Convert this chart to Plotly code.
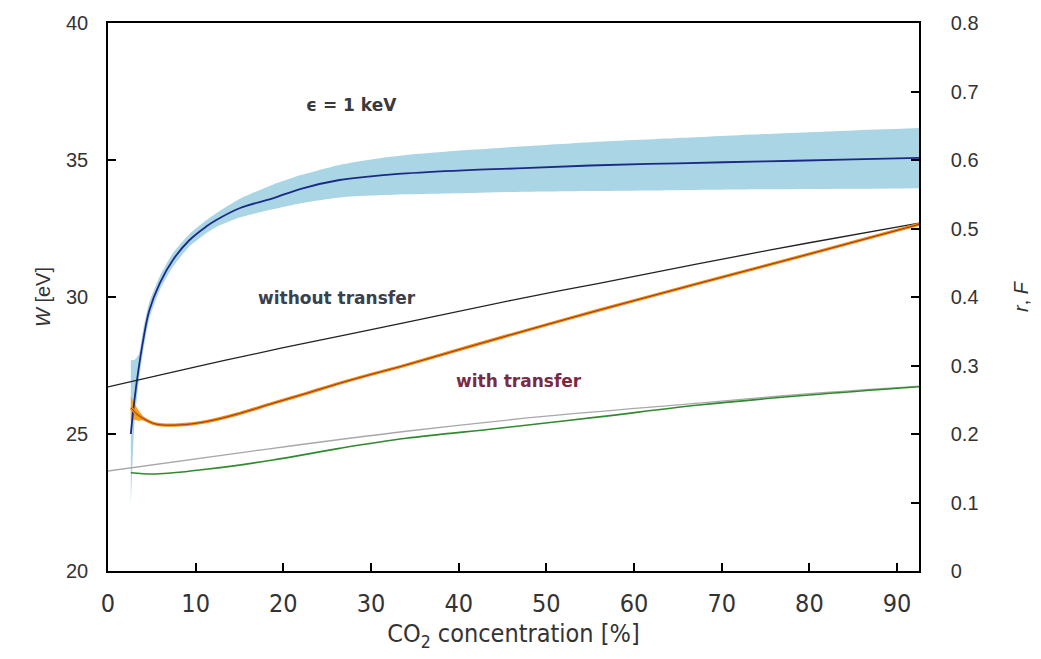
import plotly.graph_objects as go

# ---- data ----
w_x = [2.6, 3.0, 3.5, 4.0, 4.7, 5.9, 7.4, 9.3, 11.2, 12.3, 15, 18.8, 22, 26.4, 30, 34, 41.7, 47.4, 55, 65, 75, 85, 92.5]
w_val = [25.0, 26.2, 27.4, 28.4, 29.5, 30.5, 31.35, 32.08, 32.57, 32.8, 33.24, 33.6, 33.95, 34.27, 34.4, 34.51, 34.64, 34.7, 34.8, 34.88, 34.95, 35.02, 35.08]
w_lo = [22.4, 25.3, 26.9, 28.0, 29.2, 30.25, 31.1, 31.85, 32.33, 32.55, 32.9, 33.2, 33.42, 33.63, 33.7, 33.75, 33.8, 33.84, 33.87, 33.9, 33.93, 33.95, 33.97]
w_hi = [27.7, 27.7, 27.9, 28.8, 29.8, 30.75, 31.6, 32.3, 32.8, 33.05, 33.58, 34.1, 34.45, 34.82, 35.02, 35.18, 35.38, 35.5, 35.65, 35.8, 35.95, 36.08, 36.17]

wo_x = [0, 10, 20, 34, 46, 56, 67.4, 80, 92.5]
wo_val = [26.72, 27.45, 28.15, 29.07, 29.88, 30.5, 31.22, 31.98, 32.7]

wt_x = [2.6, 2.8, 3.2, 4, 5.5, 8.1, 11.2, 15, 18.8, 22.6, 26.4, 30.3, 34, 44.6, 56, 67.4, 80, 92.5]
wt_val = [25.95, 25.9, 25.75, 25.57, 25.36, 25.33, 25.45, 25.75, 26.12, 26.48, 26.85, 27.2, 27.52, 28.5, 29.52, 30.5, 31.57, 32.65]
wt_band_x = [2.6, 3.0, 3.5, 4.0, 5.0]
wt_band_lo = [25.5, 25.52, 25.48, 25.5, 25.38]
wt_band_hi = [26.4, 26.1, 25.85, 25.65, 25.42]

gray_x = [0, 17, 34, 50, 67.4, 80, 92.5]
gray_val = [0.146, 0.176, 0.204, 0.226, 0.245, 0.259, 0.27]

green_x = [2.6, 5.5, 11.2, 18.8, 26.4, 34, 44.6, 56, 67.4, 80, 92.5]
green_val = [0.1435, 0.1416, 0.1485, 0.162, 0.179, 0.1937, 0.2083, 0.225, 0.2423, 0.257, 0.269]

x_ticks = [0, 10, 20, 30, 40, 50, 60, 70, 80, 90]
yl_ticks = [20, 25, 30, 35, 40]
yr_ticks = [0, 0.1, 0.2, 0.3, 0.4, 0.5, 0.6, 0.7, 0.8]
yr_labels = ["0", "0.1", "0.2", "0.3", "0.4", "0.5", "0.6", "0.7", "0.8"]

fig = go.Figure()

# blue band (lower edge, then upper edge filled down to it)
fig.add_trace(go.Scatter(x=w_x, y=w_lo, mode="lines", line=dict(width=0, color="#a9d5e4", shape="spline", smoothing=0.6),
                         showlegend=False, hoverinfo="skip"))
fig.add_trace(go.Scatter(x=w_x, y=w_hi, mode="lines", fill="tonexty", fillcolor="#a9d5e4",
                         line=dict(width=0, color="#a9d5e4", shape="spline", smoothing=0.6),
                         showlegend=False, hoverinfo="skip"))
# orange band at start
fig.add_trace(go.Scatter(x=wt_band_x + wt_band_x[::-1], y=wt_band_lo + wt_band_hi[::-1], fill="toself",
                         fillcolor="#f7a21b", line=dict(width=0, color="#f7a21b"),
                         mode="lines", showlegend=False, hoverinfo="skip"))
# blue W line
fig.add_trace(go.Scatter(x=w_x, y=w_val, mode="lines", line=dict(color="#1b2a86", width=1.8, shape="spline"),
                         showlegend=False))
# without transfer
fig.add_trace(go.Scatter(x=wo_x, y=wo_val, mode="lines", line=dict(color="#222222", width=1.3, shape="spline"),
                         showlegend=False))
# with transfer
fig.add_trace(go.Scatter(x=wt_x, y=wt_val, mode="lines", line=dict(color="#f08a10", width=3.2, shape="spline"),
                         showlegend=False))
fig.add_trace(go.Scatter(x=wt_x, y=wt_val, mode="lines", line=dict(color="#9a3a1c", width=1.0, shape="spline"),
                         showlegend=False))
# gray & green on right axis
fig.add_trace(go.Scatter(x=gray_x, y=gray_val, mode="lines", yaxis="y2",
                         line=dict(color="#a8a8a8", width=1.3, shape="spline"), showlegend=False))
fig.add_trace(go.Scatter(x=green_x, y=green_val, mode="lines", yaxis="y2",
                         line=dict(color="#2f8a2f", width=1.6, shape="spline"), showlegend=False))

tick_font = dict(family="Liberation Sans, Arial, sans-serif", size=20, color="#333333")
narrow_font = dict(family="DejaVu Sans Condensed, Liberation Sans Narrow, sans-serif", size=25, color="#333333")
ann_font = dict(family="DejaVu Sans, sans-serif", size=17, weight="bold")

fig.update_layout(
    width=1041, height=659,
    margin=dict(l=108, r=122, t=23, b=88),
    paper_bgcolor="white", plot_bgcolor="white",
    xaxis=dict(range=[0, 92.5], tickvals=x_ticks, ticks="inside", ticklen=8, tickwidth=1.5,
               tickcolor="black", showline=True, linecolor="black", linewidth=1.5, mirror=True,
               showgrid=False, zeroline=False, tickfont=narrow_font, ticklabelstandoff=9,
               title=dict(text="CO<sub>2</sub> concentration [%]", font=narrow_font, standoff=8)),
    yaxis=dict(range=[20, 40], tickvals=yl_ticks, ticks="inside", ticklen=8, tickwidth=1.5,
               tickcolor="black", showline=True, linecolor="black", linewidth=1.5, mirror=True,
               showgrid=False, zeroline=False, tickfont=tick_font, ticklabelstandoff=14,
               title=dict(text="<i>W</i> [eV]", font=tick_font, standoff=10)),
    yaxis2=dict(range=[0, 0.8], tickvals=yr_ticks, ticktext=yr_labels, overlaying="y", side="right",
                ticks="inside", ticklen=8, tickwidth=1.5, tickcolor="black", showline=True,
                linecolor="black", linewidth=1.5, showgrid=False, zeroline=False,
                tickfont=tick_font, ticklabelstandoff=26,
                title=dict(text="<i>r</i>, <i>F</i>", font=tick_font, standoff=36)),
    annotations=[
        dict(x=27.8, y=37.0, xref="x", yref="y", text="ϵ = 1 keV", showarrow=False,
             font=dict(ann_font, color="#3a3a3a")),
        dict(x=26.1, y=29.96, xref="x", yref="y", text="without transfer", showarrow=False,
             font=dict(ann_font, color="#3a404c")),
        dict(x=46.9, y=26.93, xref="x", yref="y", text="with transfer", showarrow=False,
             font=dict(ann_font, color="#7a2a44")),
    ],
)

fig.write_html("out.html")
